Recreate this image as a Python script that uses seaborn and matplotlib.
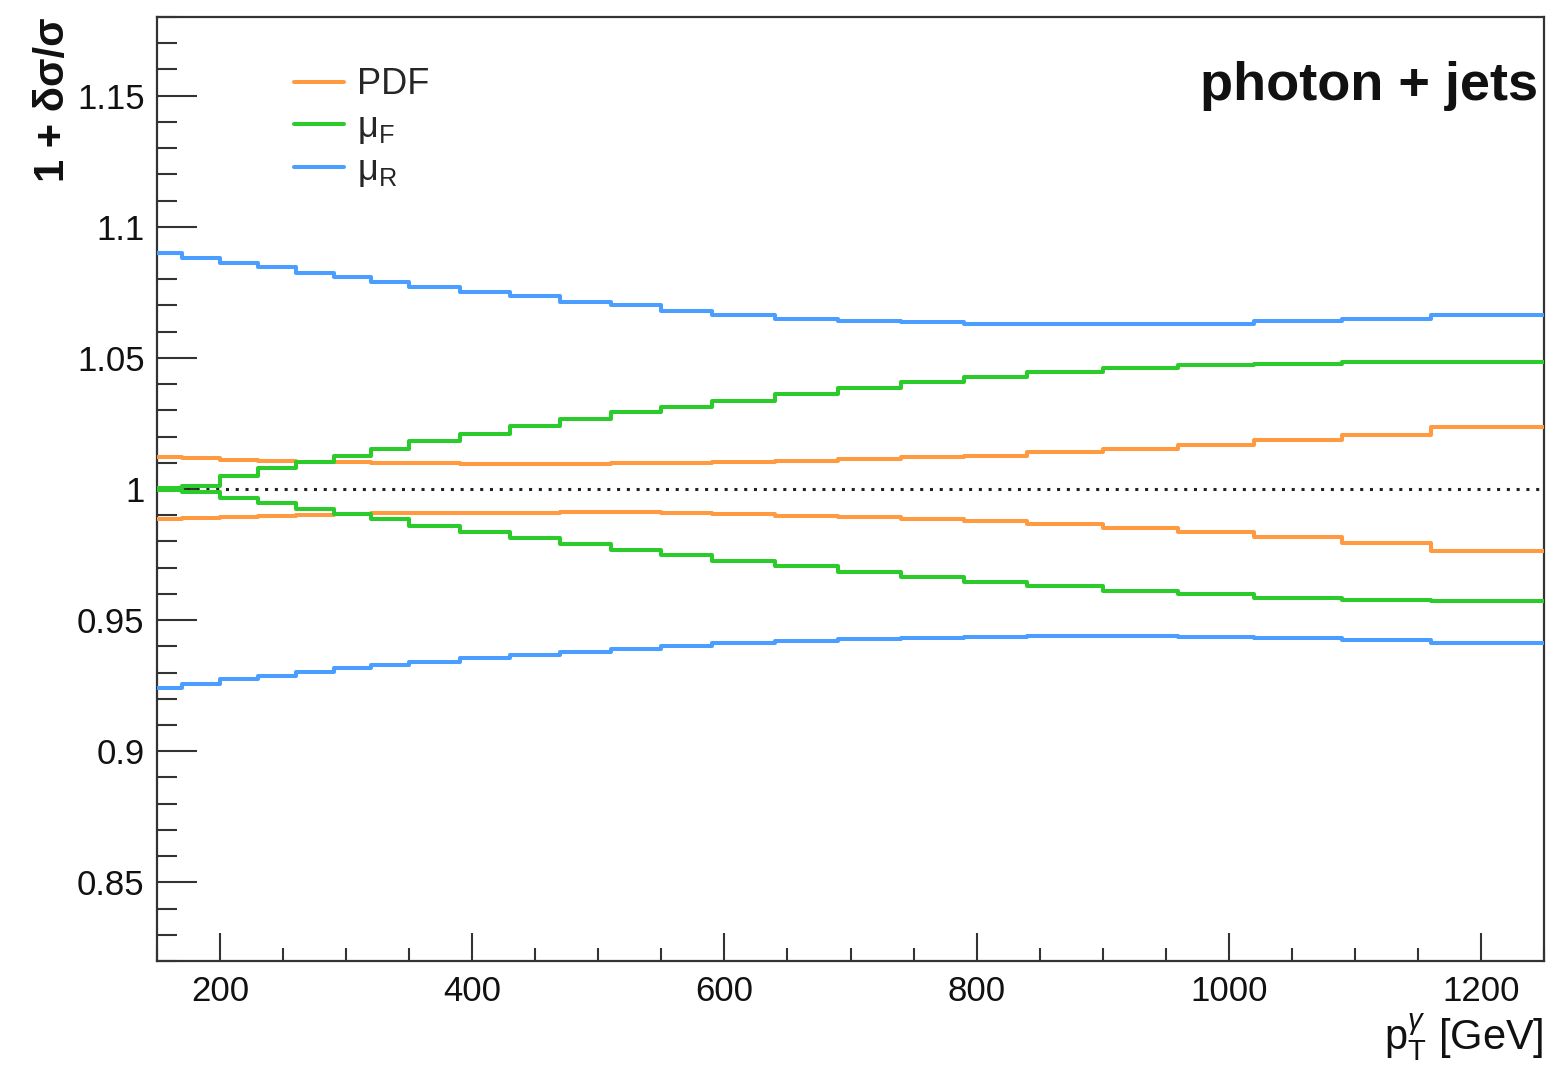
import numpy as np
import pandas as pd
import matplotlib
matplotlib.use("Agg")
import matplotlib.pyplot as plt
import seaborn as sns
from matplotlib.ticker import MultipleLocator, FuncFormatter
from matplotlib.lines import Line2D

# ---------------- data ----------------
bin_edges = [150, 170, 200, 230, 260, 290, 320, 350, 390, 430, 470, 510, 550,
             590, 640, 690, 740, 790, 840, 900, 960, 1020, 1090, 1160, 1250]

pdf_up = [1.0121, 1.0117, 1.0112, 1.0108, 1.0104, 1.0102, 1.0099, 1.0098,
          1.0097, 1.0096, 1.0096, 1.0098, 1.0099, 1.0104, 1.0108, 1.0115,
          1.0121, 1.0127, 1.0140, 1.0153, 1.0168, 1.0185, 1.0206, 1.0235]
pdf_down = [0.9885, 0.9889, 0.9894, 0.9898, 0.9902, 0.9905, 0.9907, 0.9908,
            0.9909, 0.9910, 0.9911, 0.9911, 0.9907, 0.9903, 0.9898, 0.9892,
            0.9885, 0.9877, 0.9866, 0.9851, 0.9837, 0.9818, 0.9794, 0.9764]
muF_up = [1.0003, 1.0012, 1.0051, 1.0079, 1.0104, 1.0125, 1.0153, 1.0182,
          1.0210, 1.0239, 1.0267, 1.0293, 1.0314, 1.0337, 1.0363, 1.0385,
          1.0407, 1.0427, 1.0445, 1.0461, 1.0471, 1.0477, 1.0484, 1.0485]
muF_down = [0.9998, 0.9990, 0.9966, 0.9947, 0.9924, 0.9905, 0.9885, 0.9860,
            0.9837, 0.9813, 0.9790, 0.9768, 0.9748, 0.9726, 0.9705, 0.9684,
            0.9663, 0.9646, 0.9630, 0.9612, 0.9599, 0.9586, 0.9577, 0.9571]
muR_up = [1.0900, 1.0880, 1.0860, 1.0845, 1.0825, 1.0810, 1.0790, 1.0770,
          1.0750, 1.0735, 1.0715, 1.0700, 1.0680, 1.0665, 1.0650, 1.0640,
          1.0635, 1.0630, 1.0630, 1.0628, 1.0630, 1.0640, 1.0650, 1.0665]
muR_down = [0.9242, 0.9258, 0.9274, 0.9287, 0.9302, 0.9316, 0.9329, 0.9342,
            0.9354, 0.9367, 0.9378, 0.9390, 0.9401, 0.9412, 0.9421, 0.9427,
            0.9432, 0.9437, 0.9440, 0.9441, 0.9437, 0.9431, 0.9423, 0.9414]

sources = ["PDF", "muF", "muR"]
legend_labels = ["PDF", "μ$_{\\mathrm{F}}$", "μ$_{\\mathrm{R}}$"]
yticks = [0.85, 0.9, 0.95, 1.0, 1.05, 1.1, 1.15]
xticks = [200, 400, 600, 800, 1000, 1200]

colors = {"PDF": "#FF9A40", "muF": "#2CCB2C", "muR": "#4A9EFF"}

# ---------------- long table ----------------
rows = []
curves = {("PDF", "up"): pdf_up, ("PDF", "down"): pdf_down,
          ("muF", "up"): muF_up, ("muF", "down"): muF_down,
          ("muR", "up"): muR_up, ("muR", "down"): muR_down}
for (src, bound), vals in curves.items():
    ys = list(vals) + [vals[-1]]
    for x, y in zip(bin_edges, ys):
        rows.append({"x": x, "y": y, "source": src, "bound": f"{src}_{bound}"})
df = pd.DataFrame(rows)

# ---------------- style ----------------
sns.set_theme(style="ticks")
plt.rcParams["font.family"] = ["Liberation Sans", "DejaVu Sans"]
plt.rcParams["mathtext.fontset"] = "custom"
plt.rcParams["mathtext.rm"] = "Liberation Sans"
plt.rcParams["mathtext.it"] = "Liberation Sans:italic"
plt.rcParams["mathtext.bf"] = "Liberation Sans:bold"

fig = plt.figure(figsize=(15.48, 10.66), dpi=100)
ax = fig.add_axes([157 / 1548, 1 - 961 / 1066, (1544 - 157) / 1548, (961 - 17) / 1066])

ax.axhline(1.0, color="#222222", lw=2.2, ls=(0, (1, 2.2)), zorder=1)

sns.lineplot(data=df, x="x", y="y", hue="source", units="bound",
             estimator=None, drawstyle="steps-post", palette=colors,
             hue_order=sources, lw=2.9, legend=False, ax=ax, zorder=3)

ax.set_xlim(150, 1250)
ax.set_ylim(0.82, 1.18)

ax.xaxis.set_major_locator(plt.FixedLocator(xticks))
ax.xaxis.set_minor_locator(MultipleLocator(50))
ax.yaxis.set_major_locator(plt.FixedLocator(yticks))
ax.yaxis.set_minor_locator(MultipleLocator(0.01))
ax.yaxis.set_major_formatter(FuncFormatter(lambda v, p: f"{v:g}"))

for s in ax.spines.values():
    s.set_color("#333333")
    s.set_linewidth(1.6)

ax.tick_params(axis="both", which="both", direction="in", colors="#333333",
               width=1.5, labelcolor="#111111", top=False, right=False)
ax.tick_params(axis="y", which="major", length=29, labelsize=25, pad=9)
ax.tick_params(axis="y", which="minor", length=14.5)
ax.tick_params(axis="x", which="major", length=20, labelsize=25, pad=10)
ax.tick_params(axis="x", which="minor", length=9.5)

ax.set_xlabel(r"$\mathrm{p}_{\mathrm{T}}^{\gamma}$ [GeV]", loc="right",
              fontsize=30, labelpad=2, color="#111111")
ax.set_ylabel("1 + δσ/σ", loc="top", fontsize=30, fontweight="bold",
              labelpad=3, color="#111111")

ax.text(0.9957, 0.927, "photon + jets", transform=ax.transAxes, ha="right",
        va="center", fontsize=39, fontweight="bold", color="#111111")

handles = [Line2D([0], [0], color=colors[s], lw=2.9) for s in sources]
ax.legend(handles, legend_labels, loc="upper left",
          bbox_to_anchor=(0.088, 0.962), frameon=False, fontsize=26,
          handlelength=1.4, handletextpad=0.35, labelspacing=0.2,
          borderaxespad=0.0)

ax.set_facecolor("white")
fig.patch.set_facecolor("white")
fig.savefig("out.png", dpi=100)
